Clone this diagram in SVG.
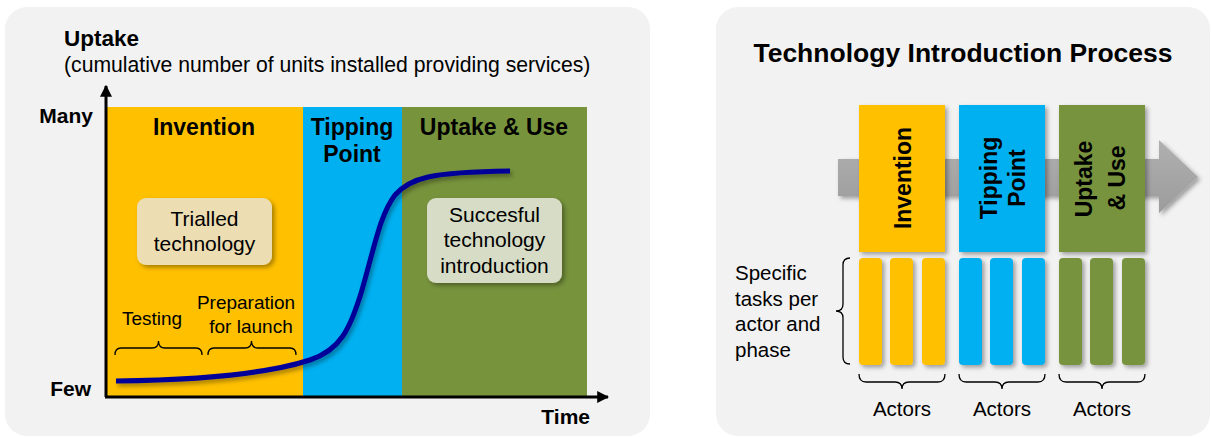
<svg xmlns="http://www.w3.org/2000/svg" width="1211" height="437" viewBox="0 0 1211 437">
<style>
text{font-family:"Liberation Sans",Arial,sans-serif;fill:#000}
.b{font-weight:bold}
.t19{font-size:19px}
.t20{font-size:20.5px}
.t21{font-size:21px}
.t23{font-size:23px;font-weight:bold}
.mid{text-anchor:middle}
.end{text-anchor:end}
.brace{fill:none;stroke:#000;stroke-width:1.3}
.axis{stroke:#000;stroke-width:3;fill:none}
.yel{fill:#FFC000}.blu{fill:#00B0F0}.grn{fill:#77933C}
</style>
<defs>
<filter id="sh" x="-20%" y="-20%" width="150%" height="150%">
<feDropShadow dx="2.5" dy="2.5" stdDeviation="2" flood-color="#000" flood-opacity="0.35"/>
</filter>
<filter id="shc" x="-10%" y="-10%" width="130%" height="130%">
<feDropShadow dx="2" dy="3" stdDeviation="2" flood-color="#000" flood-opacity="0.35"/>
</filter>
<marker id="ah" viewBox="0 0 10 10" refX="9" refY="5" markerWidth="4" markerHeight="4" markerUnits="strokeWidth" orient="auto">
<path d="M0,0 L10,5 L0,10 z" fill="#000"/>
</marker>
<linearGradient id="ag" x1="0" y1="0" x2="0" y2="1">
<stop offset="0" stop-color="#B0B0B0"/>
<stop offset="1" stop-color="#9C9C9C"/>
</linearGradient>
</defs>

<rect width="1211" height="437" fill="#fff"/>

<!-- Panels -->
<g id="left-panel">
<rect x="5" y="7" width="645" height="429" rx="22" fill="#F2F2F2"/>
<text x="64" y="46" class="b" style="font-size:22.5px">Uptake</text>
<text x="64" y="72" style="font-size:21.2px">(cumulative number of units installed providing services)</text>
</g>
<g id="right-panel">
<rect x="716" y="7" width="494" height="429" rx="22" fill="#F2F2F2"/>
<text x="963" y="62" class="b mid" style="font-size:26.5px">Technology Introduction Process</text>
<path d="M838,159 L1159,159 L1159,140 L1198,177 L1159,213 L1159,196 L838,196 z" fill="url(#ag)" filter="url(#sh)"/>
</g>

<g id="band-invention">
<rect x="107" y="107" width="196" height="289" class="yel"/>
<text x="204" y="135" class="t23 mid">Invention</text>
</g>
<g id="band-tipping">
<rect x="303" y="107" width="99" height="289" class="blu"/>
<text x="352" y="135" class="t23 mid">Tipping</text>
<text x="352" y="162" class="t23 mid">Point</text>
</g>
<g id="band-uptake">
<rect x="402" y="107" width="185" height="289" class="grn"/>
<text x="494" y="135" class="t23 mid">Uptake &amp; Use</text>
</g>

<g id="trialled">
<rect x="137" y="198" width="135" height="67" rx="9" fill="#ECDDB2" filter="url(#sh)"/>
<text x="204.5" y="226" class="t21 mid" fill="#111">Trialled</text>
<text x="204.5" y="251" class="t21 mid" fill="#111">technology</text>
</g>
<g id="succesful">
<rect x="427" y="198" width="135" height="85" rx="9" fill="#D6DCC6" filter="url(#sh)"/>
<text x="494.5" y="222" class="t21 mid" fill="#111">Succesful</text>
<text x="494.5" y="247" class="t21 mid" fill="#111">technology</text>
<text x="494.5" y="273" class="t21 mid" fill="#111">introduction</text>
</g>

<g id="testing">
<text x="152" y="325" class="t19 mid">Testing</text>
</g>
<g id="preparation">
<text x="246" y="309" class="t19 mid">Preparation</text>
<text x="251" y="333" class="t19 mid">for launch</text>
</g>

<g id="axes">
<text x="93" y="123" class="b t21 end">Many</text>
<text x="91" y="396" class="b t21 end">Few</text>
<text x="590" y="424" class="b t21 end">Time</text>
</g>

<g id="phase-invention">
<rect x="859" y="105" width="86" height="147" class="yel" filter="url(#sh)"/>
<text transform="translate(911,178) rotate(-90)" class="t23 mid">Invention</text>
</g>
<g id="phase-tipping">
<rect x="959" y="105" width="86" height="147" class="blu" filter="url(#sh)"/>
<text transform="translate(997,178) rotate(-90)" class="t23 mid">Tipping</text>
<text transform="translate(1025,178) rotate(-90)" class="t23 mid">Point</text>
</g>
<g id="phase-uptake">
<rect x="1059" y="105" width="86" height="147" class="grn" filter="url(#sh)"/>
<text transform="translate(1092,179) rotate(-90)" class="t23 mid">Uptake</text>
<text transform="translate(1125,178) rotate(-90)" class="t23 mid">&amp; Use</text>
</g>

<g id="tasks-invention" class="yel" filter="url(#sh)">
<rect x="859" y="258" width="23" height="107" rx="4"/>
<rect x="890" y="258" width="23" height="107" rx="4"/>
<rect x="922" y="258" width="23" height="107" rx="4"/>
</g>
<g id="tasks-tipping" class="blu" filter="url(#sh)">
<rect x="959" y="258" width="23" height="107" rx="4"/>
<rect x="990" y="258" width="23" height="107" rx="4"/>
<rect x="1022" y="258" width="23" height="107" rx="4"/>
</g>
<g id="tasks-uptake" class="grn" filter="url(#sh)">
<rect x="1059" y="258" width="23" height="107" rx="4"/>
<rect x="1090" y="258" width="23" height="107" rx="4"/>
<rect x="1122" y="258" width="23" height="107" rx="4"/>
</g>

<g id="specific-label">
<text x="735" y="280" class="t20">Specific</text>
<text x="735" y="305.5" class="t20">tasks per</text>
<text x="735" y="331" class="t20">actor and</text>
<text x="735" y="357" class="t20">phase</text>
</g>
<g id="actors-labels">
<text x="902" y="416" class="t20 mid">Actors</text>
<text x="1002" y="416" class="t20 mid">Actors</text>
<text x="1102" y="416" class="t20 mid">Actors</text>
</g>

<g id="connectors">
<path class="axis" d="M106,397 L106,86" marker-end="url(#ah)"/>
<path class="axis" d="M105,397 L608,397" marker-end="url(#ah)"/>
<path class="brace" d="M115,355 Q115,348 121,348 L152,348 Q158.5,348 158.5,341 Q158.5,348 165,348 L196,348 Q202,348 202,355"/>
<path class="brace" d="M208,355 Q208,348 214,348 L245,348 Q251.5,348 251.5,341 Q251.5,348 258,348 L290,348 Q296,348 296,355"/>
<path d="M116,381 C200,380 270,373 310,360 C340,350 350,330 362,290 C375,245 380,215 395,195 C410,178 430,172 510,171" fill="none" stroke="#000099" stroke-width="5" filter="url(#shc)"/>
<path class="brace" d="M850,258 Q843,258 843,265 L843,304 Q843,311 836,311 Q843,311 843,318 L843,357 Q843,364 850,364"/>
<path class="brace" d="M859,374 Q859,382 866,382 L895,382 Q902,382 902,389 Q902,382 909,382 L938,382 Q945,382 945,374"/>
<path class="brace" d="M959,374 Q959,382 966,382 L995,382 Q1002,382 1002,389 Q1002,382 1009,382 L1038,382 Q1045,382 1045,374"/>
<path class="brace" d="M1059,374 Q1059,382 1066,382 L1095,382 Q1102,382 1102,389 Q1102,382 1109,382 L1138,382 Q1145,382 1145,374"/>
</g>
</svg>
